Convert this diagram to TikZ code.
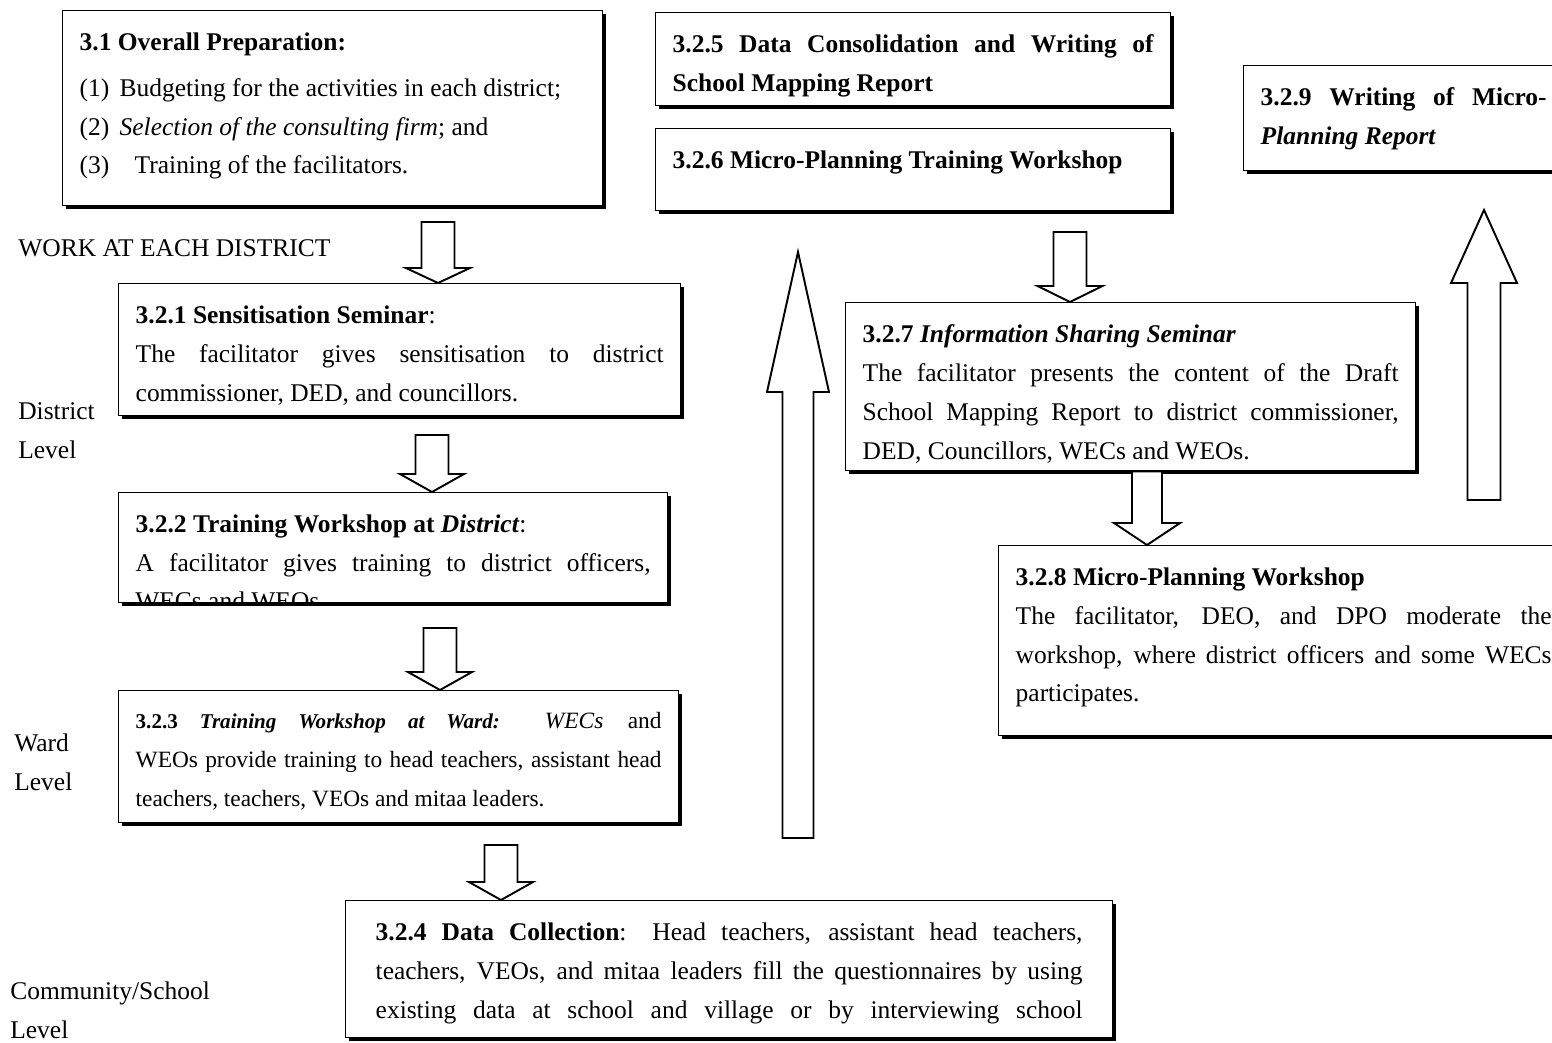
\documentclass[tikz,border=0pt]{standalone}
\usepackage{fontspec}
\setmainfont{Liberation Serif}
\usetikzlibrary{calc,shadows}

% hollow block arrow: tail, tip, shaft half width, head half width, head length
\newcommand{\hollowarrow}[5]{%
  \coordinate (hb) at ($(#2)!#5!(#1)$);
  \draw[hollow] ($(#1)!#3!90:(#2)$) -- ($(hb)!#3!90:(#2)$) -- ($(hb)!#4!90:(#2)$) -- (#2)
    -- ($(hb)!#4!-90:(#2)$) -- ($(hb)!#3!-90:(#2)$) -- ($(#1)!#3!-90:(#2)$) -- cycle;
}

\tikzset{
  box/.style={draw, line width=0.8pt, fill=white, anchor=north west,
    inner xsep=0.34cm, inner ysep=0.44cm,
    drop shadow={shadow xshift=1.8pt, shadow yshift=-1.8pt, fill=black, opacity=1}},
  hollow/.style={draw, line width=1.1pt, fill=white, line join=miter},
  lvl/.style={anchor=west, inner sep=0, align=left},
}

\begin{document}
\begin{tikzpicture}[x=0.02cm, y=-0.02cm, font=\fontsize{14.5}{22.1}\selectfont]
  \useasboundingbox (0,0) rectangle (1552,1042);
  \clip (0,0) rectangle (1552,1042);
  \fill[white] (0,0) rectangle (1552,1042);

  % left column
  \node[box] (b31) at (62,10) {\parbox[t][3.02cm][t]{10.12cm}{%
    \textbf{3.1 Overall Preparation:}\par\vspace{0.14cm}
    \makebox[0.8cm][l]{(1)}Budgeting for the activities in each district;\par
    \makebox[0.8cm][l]{(2)}\textit{Selection of the consulting firm}; and\par
    \makebox[1.1cm][l]{(3)}Training of the facilitators.}};

  \node[lvl] (work) at (18,248) {WORK AT EACH DISTRICT};

  \node[box] (b321) at (118,283) {\parbox[t][1.76cm][t]{10.56cm}{%
    \textbf{3.2.1 Sensitisation Seminar}:\par
    The facilitator gives sensitisation to district\linebreak
    commissioner, DED, and councillors.}};

  \node[box] (b322) at (118,492) {\parbox[t][1.32cm][t]{10.3cm}{%
    \textbf{3.2.2 Training Workshop at \textit{District}}:\par
    \makebox[\linewidth][s]{A facilitator gives training to district officers,}}};
  \begin{scope}
    \clip (b322.north west) rectangle (b322.south east);
    \node[anchor=base west, inner sep=0] (b322c) at ($(b322.north west)+(17,117)$) {WECs and WEOs.};
  \end{scope}

  \node[box] (b323) at (118,690) {\parbox[t][1.76cm][t]{10.52cm}{\fontsize{13.3}{22.1}\selectfont
    {\fontsize{12}{22.1}\selectfont\textbf{3.2.3 \textit{Training Workshop at Ward:}}} \textit{WECs} and\linebreak
    WEOs provide training to head teachers, assistant head\linebreak
    teachers, teachers, VEOs and mitaa leaders.}};

  \node[box, inner xsep=0.6cm] (b324) at (345,900) {\parbox[t][1.86cm][t]{14.14cm}{%
    \textbf{3.2.4 Data Collection}: Head teachers, assistant head teachers,\linebreak
    teachers, VEOs, and mitaa leaders fill the questionnaires by using\linebreak
    \makebox[\linewidth][s]{existing data at school and village or by interviewing school}}};

  \node[lvl] (dist) at (18,431) {District\\Level};
  \node[lvl] (ward) at (14,762) {Ward\\Level};
  \node[lvl] (comm) at (10,1010) {Community/School\\Level};

  % right part
  \node[box] (b325) at (655,12) {\parbox[t][0.98cm][t]{9.62cm}{%
    \textbf{3.2.5 Data Consolidation and Writing of\linebreak School Mapping Report}}};

  \node[box] (b326) at (655,128) {\parbox[t][0.76cm][t]{9.62cm}{%
    \textbf{3.2.6 Micro-Planning Training Workshop}}};

  \node[box] (b327) at (845,302) {\parbox[t][2.48cm][t]{10.72cm}{%
    \textbf{3.2.7 \textit{Information Sharing Seminar}}\par
    The facilitator presents the content of the Draft\linebreak
    School Mapping Report to district commissioner,\linebreak
    DED, Councillors, WECs and WEOs.}};

  \node[box] (b328) at (998,545) {\parbox[t][2.92cm][t]{10.72cm}{%
    \textbf{3.2.8 Micro-Planning Workshop}\par
    The facilitator, DEO, and DPO moderate the\linebreak
    workshop, where district officers and some WECs\linebreak
    participates.}};

  \node[box] (b329) at (1243,65) {\parbox[t][1.22cm][t]{5.72cm}{%
    \textbf{3.2.9 Writing of Micro-\linebreak\textit{Planning Report}}}};

  % arrows
  \hollowarrow{438,222}{b321.north -| 438,0}{0.33cm}{0.64cm}{0.3cm}
  \hollowarrow{432,435}{b322.north -| 432,0}{0.33cm}{0.64cm}{0.36cm}
  \hollowarrow{440,628}{b323.north -| 440,0}{0.33cm}{0.64cm}{0.36cm}
  \hollowarrow{501,845}{b324.north -| 501,0}{0.33cm}{0.64cm}{0.36cm}
  \hollowarrow{1070,232}{b327.north -| 1070,0}{0.33cm}{0.65cm}{0.32cm}
  \hollowarrow{b327.south -| 1147,0}{b328.north -| 1147,0}{0.3cm}{0.66cm}{0.44cm}
  \hollowarrow{798,838}{798,252}{0.31cm}{0.62cm}{2.8cm}
  \hollowarrow{1484,500}{1484,210}{0.33cm}{0.66cm}{1.46cm}
\end{tikzpicture}
\end{document}
